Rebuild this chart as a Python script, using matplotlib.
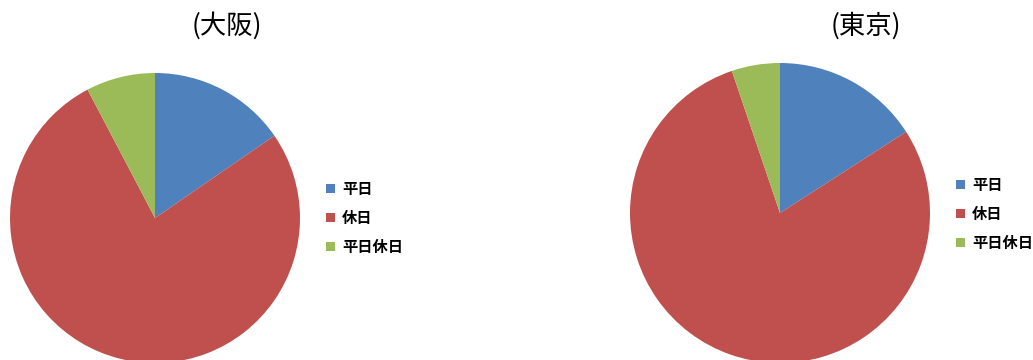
import matplotlib
matplotlib.use('Agg')
from matplotlib import pyplot as plt

plt.rcParams['font.family'] = ['Noto Sans CJK JP', 'DejaVu Sans']

labels = ['平日', '休日', '平日休日']
osaka = [15.4, 76.9, 7.7]
tokyo = [15.9, 78.9, 5.2]
colors = ['#4F81BD', '#C0504D', '#9BBB59']

W, H = 1033, 360
fig = plt.figure(figsize=(W / 100, H / 100), dpi=100)


def pie_panel(cx, cy, r, values, title, tx, legend_x, legend_y):
    ax = fig.add_axes([(cx - r) / W, (H - cy - r) / H, 2 * r / W, 2 * r / H])
    wedges, _ = ax.pie(values, colors=colors, startangle=90, counterclock=False,
                       radius=1, wedgeprops=dict(linewidth=0))
    ax.set_xlim(-1, 1)
    ax.set_ylim(-1, 1)
    ax.set_aspect('auto')
    ax.axis('off')
    fig.text(tx / W, 1 - 26 / H, title, ha='center', va='center',
             fontsize=19, fontweight='normal')
    fig.legend(wedges, labels, loc='center left',
               bbox_to_anchor=(legend_x / W, 1 - legend_y / H),
               frameon=False, handlelength=0.6, handleheight=0.6,
               handletextpad=0.45, labelspacing=0.85, borderaxespad=0,
               borderpad=0, prop=dict(size=11, weight='bold'))


pie_panel(155, 218, 145, osaka, '(大阪)', 227, 326, 218)
pie_panel(780, 213, 150, tokyo, '(東京)', 866, 956, 214)

plt.savefig('out.png', dpi=100)
